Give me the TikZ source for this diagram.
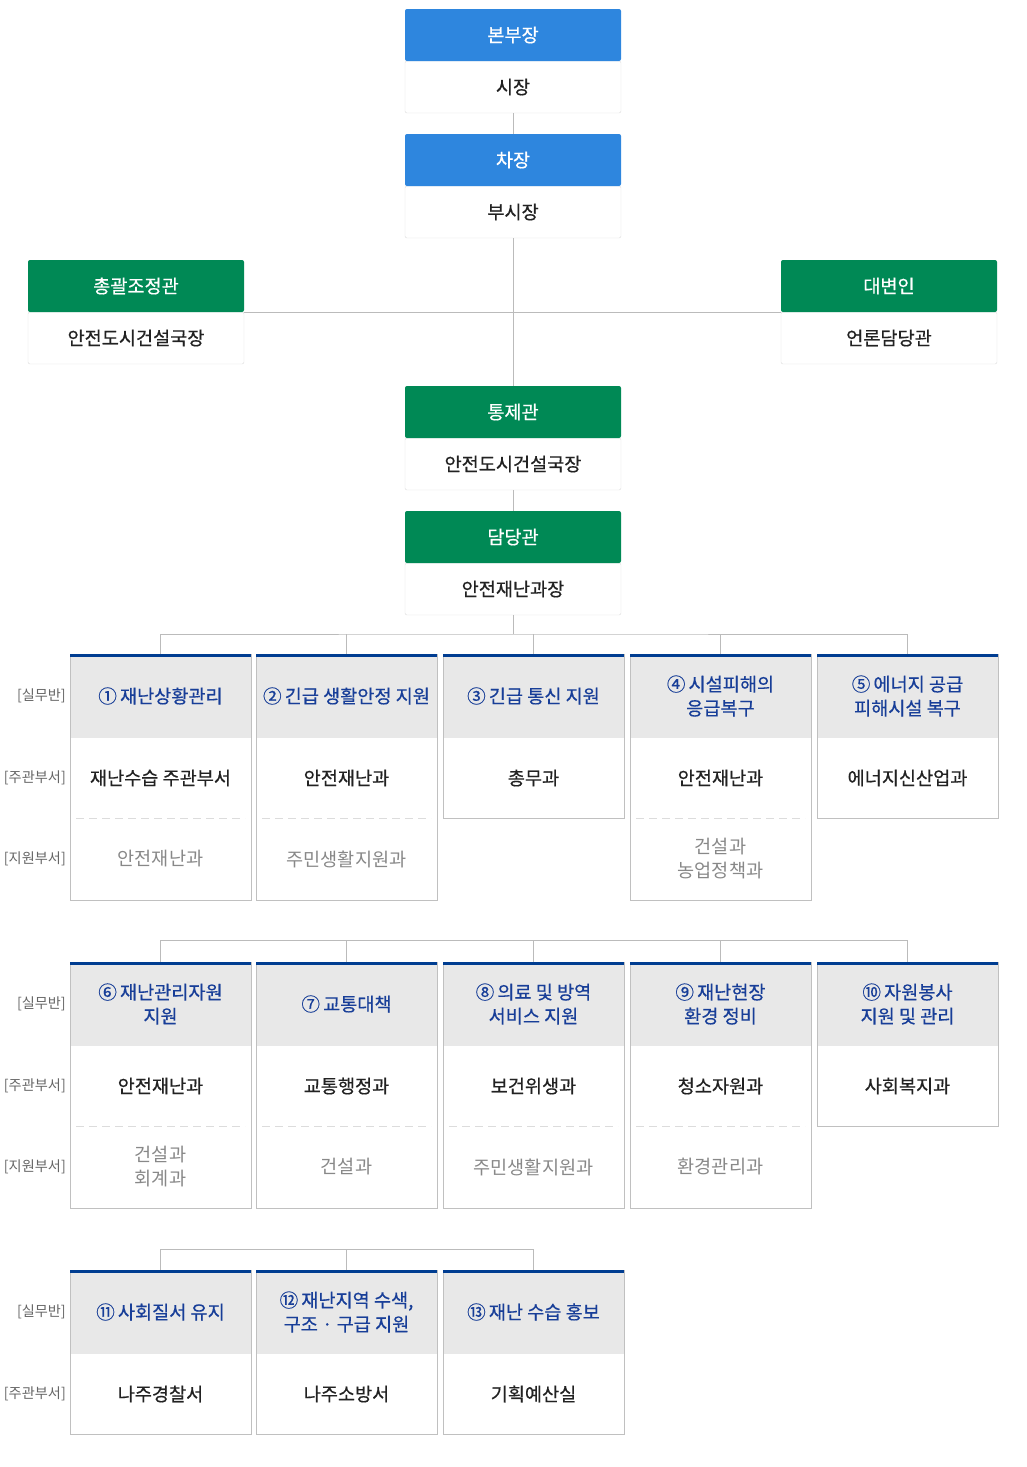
\documentclass[tikz,border=0pt]{standalone}
\usepackage{fontspec}
\setmainfont{Noto Sans CJK KR}
\newfontfamily\medfont{Noto Sans CJK KR}[FakeBold=0.5]
\usetikzlibrary{positioning}

\definecolor{headblue}{RGB}{46,134,222}
\definecolor{headgreen}{RGB}{0,137,85}
\definecolor{titleblue}{RGB}{24,62,152}
\definecolor{topnavy}{RGB}{0,61,145}
\definecolor{cellgray}{RGB}{232,232,232}
\definecolor{boxline}{RGB}{192,192,192}
\definecolor{unitline}{RGB}{220,220,220}
\definecolor{connline}{RGB}{187,187,187}
\definecolor{subtext}{RGB}{136,136,136}
\definecolor{labtext}{RGB}{102,102,102}
\definecolor{maintext}{RGB}{34,34,34}

\tikzset{
  head/.style={minimum width=216pt, minimum height=52pt, inner sep=0pt, outer sep=0pt,
    text=white, rounded corners=2pt, font=\medfont\fontsize{18.6}{22}\selectfont},
  bluehead/.style={head, fill=headblue},
  greenhead/.style={head, fill=headgreen},
  headbody/.style={minimum width=216pt, minimum height=52pt, inner sep=0pt, outer sep=0pt,
    draw=unitline, fill=white, rounded corners=2pt, text=maintext, font=\medfont\fontsize{18.6}{22}\selectfont},
  title/.style={minimum width=181pt, minimum height=84pt, inner sep=0pt, outer sep=0pt,
    fill=cellgray, text=titleblue, align=center, font=\medfont\fontsize{18.6}{24}\selectfont},
  dept/.style={minimum width=181pt, minimum height=80pt, inner sep=0pt, outer sep=0pt,
    text=maintext, align=center, font=\medfont\fontsize{18.6}{24}\selectfont},
  subdept/.style={minimum width=181pt, minimum height=82pt, inner sep=0pt, outer sep=0pt,
    text=subtext, align=center, font=\fontsize{18.6}{24}\selectfont},
  sidelab/.style={text=labtext, inner sep=0pt, font=\fontsize{14.2}{17}\selectfont},
  conn/.style={draw=connline, line width=1pt},
  cellframe/.style={draw=boxline, line width=1pt},
  topline/.style={draw=topnavy, line width=3pt},
  sepline/.style={draw=unitline, line width=1pt, dash pattern=on 8pt off 5pt},
}

\begin{document}
\begin{tikzpicture}[x=1pt,y=-1pt]
  \useasboundingbox (0,0) rectangle (1026,1467);

  % command chain
  \node[headbody] (hqb) at (513,87) {시장};
  \node[bluehead, above=0pt of hqb] (hq) {본부장};
  \node[headbody] (viceb) at (513,212) {부시장};
  \node[bluehead, above=0pt of viceb] (vice) {차장};
  \node[headbody] (coordb) at (136,338) {안전도시건설국장};
  \node[greenhead, above=0pt of coordb] (coord) {총괄조정관};
  \node[headbody] (speakb) at (889,338) {언론담당관};
  \node[greenhead, above=0pt of speakb] (speak) {대변인};
  \node[headbody] (ctrlb) at (513,464) {안전도시건설국장};
  \node[greenhead, above=0pt of ctrlb] (ctrl) {통제관};
  \node[headbody] (mgrb) at (513,589) {안전재난과장};
  \node[greenhead, above=0pt of mgrb] (mgr) {담당관};

  \draw[conn] (hqb) -- (vice);
  \draw[conn] (viceb) -- (ctrl);
  \draw[conn] (coord.south east) -- (speak.south west);
  \draw[conn] (ctrlb) -- (mgr);

  % working groups, row 1
  \node[title] (t1) at (160.5,696) {①\,재난상황관리};
  \node[dept, below=0pt of t1] (m1) {재난수습 주관부서};
  \node[subdept, below=0pt of m1] (s1) {안전재난과};
  \node[title] (t2) at (346.5,696) {②\,긴급 생활안정 지원};
  \node[dept, below=0pt of t2] (m2) {안전재난과};
  \node[subdept, below=0pt of m2] (s2) {주민생활지원과};
  \node[title] (t3) at (533.5,696) {③\,긴급 통신 지원};
  \node[dept, below=0pt of t3] (m3) {총무과};
  \node[title] (t4) at (720.5,696) {④\,시설피해의\\응급복구};
  \node[dept, below=0pt of t4] (m4) {안전재난과};
  \node[subdept, below=0pt of m4] (s4) {건설과\\농업정책과};
  \node[title] (t5) at (907.5,696) {⑤\,에너지 공급\\피해시설 복구};
  \node[dept, below=0pt of t5] (m5) {에너지신산업과};

  \node[sidelab, left=4pt of t1] (lab1) {[실무반]};
  \node[sidelab, left=4pt of m1] (lab2) {[주관부서]};
  \node[sidelab, left=4pt of s1] (lab3) {[지원부서]};

  % working groups, row 2
  \node[title] (t6) at (160.5,1004) {⑥\,재난관리자원\\지원};
  \node[dept, below=0pt of t6] (m6) {안전재난과};
  \node[subdept, below=0pt of m6] (s6) {건설과\\회계과};
  \node[title] (t7) at (346.5,1004) {⑦\,교통대책};
  \node[dept, below=0pt of t7] (m7) {교통행정과};
  \node[subdept, below=0pt of m7] (s7) {건설과};
  \node[title] (t8) at (533.5,1004) {⑧\,의료 및 방역\\서비스 지원};
  \node[dept, below=0pt of t8] (m8) {보건위생과};
  \node[subdept, below=0pt of m8] (s8) {주민생활지원과};
  \node[title] (t9) at (720.5,1004) {⑨\,재난현장\\환경 정비};
  \node[dept, below=0pt of t9] (m9) {청소자원과};
  \node[subdept, below=0pt of m9] (s9) {환경관리과};
  \node[title] (t10) at (907.5,1004) {⑩\,자원봉사\\지원 및 관리};
  \node[dept, below=0pt of t10] (m10) {사회복지과};

  \node[sidelab, left=4pt of t6] (lab4) {[실무반]};
  \node[sidelab, left=4pt of m6] (lab5) {[주관부서]};
  \node[sidelab, left=4pt of s6] (lab6) {[지원부서]};

  % working groups, row 3
  \node[title] (t11) at (160.5,1312) {⑪\,사회질서 유지};
  \node[dept, below=0pt of t11] (m11) {나주경찰서};
  \node[title] (t12) at (346.5,1312) {⑫\,재난지역 수색,\\구조 · 구급 지원};
  \node[dept, below=0pt of t12] (m12) {나주소방서};
  \node[title] (t13) at (533.5,1312) {⑬\,재난 수습 홍보};
  \node[dept, below=0pt of t13] (m13) {기획예산실};

  \node[sidelab, left=4pt of t11] (lab7) {[실무반]};
  \node[sidelab, left=4pt of m11] (lab8) {[주관부서]};

  % frames and separators
  \draw[cellframe] (t1.north west) rectangle (s1.south east);
  \draw[cellframe] (t2.north west) rectangle (s2.south east);
  \draw[cellframe] (t3.north west) rectangle (m3.south east);
  \draw[cellframe] (t4.north west) rectangle (s4.south east);
  \draw[cellframe] (t5.north west) rectangle (m5.south east);
  \draw[cellframe] (t6.north west) rectangle (s6.south east);
  \draw[cellframe] (t7.north west) rectangle (s7.south east);
  \draw[cellframe] (t8.north west) rectangle (s8.south east);
  \draw[cellframe] (t9.north west) rectangle (s9.south east);
  \draw[cellframe] (t10.north west) rectangle (m10.south east);
  \draw[cellframe] (t11.north west) rectangle (m11.south east);
  \draw[cellframe] (t12.north west) rectangle (m12.south east);
  \draw[cellframe] (t13.north west) rectangle (m13.south east);

  \draw[sepline] ([xshift=6pt]m1.south west) -- ([xshift=-6pt]m1.south east);
  \draw[sepline] ([xshift=6pt]m2.south west) -- ([xshift=-6pt]m2.south east);
  \draw[sepline] ([xshift=6pt]m4.south west) -- ([xshift=-6pt]m4.south east);
  \draw[sepline] ([xshift=6pt]m6.south west) -- ([xshift=-6pt]m6.south east);
  \draw[sepline] ([xshift=6pt]m7.south west) -- ([xshift=-6pt]m7.south east);
  \draw[sepline] ([xshift=6pt]m8.south west) -- ([xshift=-6pt]m8.south east);
  \draw[sepline] ([xshift=6pt]m9.south west) -- ([xshift=-6pt]m9.south east);

  \draw[topline] ([yshift=-1.5pt]t1.north west) -- ([yshift=-1.5pt]t1.north east);
  \draw[topline] ([yshift=-1.5pt]t2.north west) -- ([yshift=-1.5pt]t2.north east);
  \draw[topline] ([yshift=-1.5pt]t3.north west) -- ([yshift=-1.5pt]t3.north east);
  \draw[topline] ([yshift=-1.5pt]t4.north west) -- ([yshift=-1.5pt]t4.north east);
  \draw[topline] ([yshift=-1.5pt]t5.north west) -- ([yshift=-1.5pt]t5.north east);
  \draw[topline] ([yshift=-1.5pt]t6.north west) -- ([yshift=-1.5pt]t6.north east);
  \draw[topline] ([yshift=-1.5pt]t7.north west) -- ([yshift=-1.5pt]t7.north east);
  \draw[topline] ([yshift=-1.5pt]t8.north west) -- ([yshift=-1.5pt]t8.north east);
  \draw[topline] ([yshift=-1.5pt]t9.north west) -- ([yshift=-1.5pt]t9.north east);
  \draw[topline] ([yshift=-1.5pt]t10.north west) -- ([yshift=-1.5pt]t10.north east);
  \draw[topline] ([yshift=-1.5pt]t11.north west) -- ([yshift=-1.5pt]t11.north east);
  \draw[topline] ([yshift=-1.5pt]t12.north west) -- ([yshift=-1.5pt]t12.north east);
  \draw[topline] ([yshift=-1.5pt]t13.north west) -- ([yshift=-1.5pt]t13.north east);

  % brackets
  \coordinate (bar1) at (513,634);
  \coordinate (bar2) at (513,940);
  \coordinate (bar3) at (346.5,1249);

  \draw[conn] (mgrb) -- (bar1);
  \draw[conn] (t1.north) |- (bar1) -| (t5.north);
  \draw[conn] (t2.north) -- (t2.north |- bar1);
  \draw[conn] (t3.north) -- (t3.north |- bar1);
  \draw[conn] (t4.north) -- (t4.north |- bar1);

  \draw[conn] (t6.north) |- (bar2) -| (t10.north);
  \draw[conn] (t7.north) -- (t7.north |- bar2);
  \draw[conn] (t8.north) -- (t8.north |- bar2);
  \draw[conn] (t9.north) -- (t9.north |- bar2);

  \draw[conn] (t11.north) |- (bar3) -| (t13.north);
  \draw[conn] (t12.north) -- (t12.north |- bar3);
\end{tikzpicture}
\end{document}
